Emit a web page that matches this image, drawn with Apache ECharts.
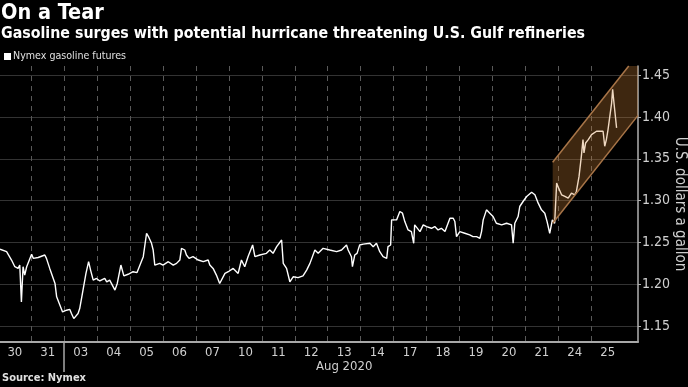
<!DOCTYPE html>
<html><head><meta charset="utf-8">
<script src="https://cdn.jsdelivr.net/npm/echarts@6/dist/echarts.min.js"></script>
<style>html,body{margin:0;padding:0;background:#000;}#c{width:688px;height:387px;}</style>
</head><body><div id="c"></div>
<script>
// ---- data ----
const dayLabels = ['30','31','03','04','05','06','07','10','11','12','13','14','17','18','19','20','21','24','25'];
const monthLabel = 'Aug 2020';
const monthStartIndex = 2; // first August trading day
const yTicks = [1.15, 1.20, 1.25, 1.30, 1.35, 1.40, 1.45];
const seriesName = 'Nymex gasoline futures';
// time in trading days since Jul 30 open
const tradingTime = [
  0.05,0.25,0.40,0.50,0.60, 0.65,0.70,0.75,0.80,0.86, 0.91,1.01,1.06,1.21,1.41, 1.46,1.56,1.62,1.72,1.77,
  1.82,1.87,1.95,2.07,2.17, 2.22,2.29,2.42,2.47,2.57, 2.66,2.70,2.74,2.80,2.88, 2.98,3.08,3.23,3.29,3.38,
  3.54,3.61,3.72,3.81,3.94, 4.09,4.21,4.30,4.40,4.50, 4.57,4.65,4.70,4.75,4.90, 5.00,5.16,5.31,5.41,5.51,
  5.56,5.66,5.71,5.79,5.91, 6.07,6.22,6.37,6.42,6.52, 6.62,6.72,
  6.88,6.98,7.13,7.28,7.38, 7.48,7.58,7.72,7.79,7.94, 8.14,8.24,8.34,8.45,8.60, 8.65,8.75,8.85,8.95,9.10,
  9.25,9.36,9.46,9.61,9.71, 9.86,10.06,10.27,10.42,10.57, 10.62,10.72,10.75,10.82,10.89, 10.97,11.08,11.28,11.38,11.48,
  11.58,11.68,11.79,11.83,11.91, 11.94,11.99,12.09,12.19,12.27, 12.34,12.44,12.54,12.61,12.64, 12.70,12.80,12.90,13.00,13.15,
  13.25,13.35,13.45,13.56,
  13.71,13.81,13.86,13.91,14.01, 14.16,14.31,14.41,14.52,14.62, 14.67,14.72,14.82,14.92,15.02, 15.12,15.28,15.43,15.58,15.63,
  15.68,15.78,15.83,15.93,16.04, 16.19,16.29,16.39,16.49,16.59, 16.66,16.74,16.82,16.89,16.95, 16.99,17.10,17.20,17.30,17.40,
  17.50,17.55,17.63,17.70,17.75, 17.78,17.83,17.91,18.01,18.16, 18.26,18.36,18.41,18.46,18.51, 18.56,18.62,18.65,18.69,18.74,
  18.77
];
const price = [
  1.242,1.239,1.229,1.221,1.219, 1.223,1.179,1.221,1.211,1.221, 1.223,1.236,1.231,1.232,1.235, 1.231,1.219,1.217,1.201,1.185,
  1.187,1.175,1.167,1.169,1.170, 1.165,1.159,1.165,1.171,1.193, 1.213,1.211,1.227,1.217,1.205, 1.207,1.204,1.207,1.203,1.205,
  1.193,1.201,1.223,1.210,1.212, 1.215,1.214,1.223,1.233,1.261, 1.256,1.249,1.241,1.223,1.225, 1.223,1.227,1.223,1.225,1.229,
  1.243,1.241,1.235,1.231,1.233, 1.229,1.227,1.229,1.223,1.219, 1.211,1.201,
  1.213,1.215,1.219,1.213,1.229, 1.221,1.233,1.247,1.233,1.235, 1.237,1.241,1.237,1.245,1.253, 1.225,1.219,1.203,1.209,1.208,
  1.210,1.217,1.225,1.241,1.237, 1.243,1.241,1.239,1.241,1.247, 1.241,1.233,1.221,1.235,1.237, 1.247,1.248,1.249,1.245,1.249,
  1.239,1.233,1.231,1.245,1.247, 1.277,1.279,1.277,1.287,1.285, 1.275,1.265,1.263,1.249,1.271, 1.273,1.263,1.271,1.269,1.267,
  1.269,1.265,1.267,1.263,
  1.279,1.279,1.275,1.257,1.263, 1.261,1.259,1.257,1.257,1.255, 1.263,1.277,1.289,1.285,1.281, 1.273,1.271,1.273,1.271,1.249,
  1.273,1.281,1.293,1.299,1.305, 1.310,1.307,1.297,1.289,1.285, 1.275,1.261,1.277,1.273,1.321, 1.317,1.307,1.305,1.303,1.309,
  1.307,1.311,1.329,1.353,1.373, 1.357,1.369,1.373,1.379,1.383, 1.383,1.383,1.365,1.373,1.385, 1.387,1.417,1.433,1.417,1.417,
  1.387
];
// rising channel annotation (trading-day position, price)
const channelX = [16.83, 19.42];
const channelUpper = [1.346, 1.475];
const channelLower = [1.273, 1.402];

// ---- chart ----
const F = "'DejaVu Sans Condensed','DejaVu Sans',sans-serif";
const xMin = 0.05, xMax = 19.42, yMin = 1.131, yMax = 1.461;
const boundaries = dayLabels.map((d, i) => i).filter(i => i > 0);
const labelPos = dayLabels.map((d, i) => i + 0.5);
const lineData = tradingTime.map((t, i) => [t, price[i]]);

const chart = echarts.init(document.getElementById('c'), null, {renderer: 'canvas'});
chart.setOption({
  backgroundColor: '#000',
  animation: false,
  title: [
    {text: 'On a Tear', left: 1, top: 2, padding: 0, textStyle: {color: '#fff', fontSize: 21.5, fontWeight: 'bold', fontFamily: F}},
    {text: 'Gasoline surges with potential hurricane threatening U.S. Gulf refineries', left: 1, top: 26, padding: 0,
     textStyle: {color: '#fff', fontSize: 15.8, fontWeight: 'bold', fontFamily: F}},
    {text: 'Source: Nymex', left: 2, top: 373, padding: 0, textStyle: {color: '#e0e0e0', fontSize: 11, fontWeight: 'bold', fontFamily: F}}
  ],
  legend: {
    left: 4, top: 51, padding: 0, icon: 'rect', itemWidth: 7, itemHeight: 7, itemGap: 4,
    data: [seriesName], textStyle: {color: '#e0e0e0', fontSize: 10.6, fontFamily: F, padding: [0, 0, 0, -3]}
  },
  grid: {left: 0, right: 50, top: 66, bottom: 45, containLabel: false, outerBoundsMode: 'none'},
  xAxis: [
    {
      type: 'value', min: xMin, max: xMax, position: 'bottom',
      axisLine: {onZero: false, lineStyle: {color: '#a8a8a8', width: 2}},
      axisTick: {show: false, customValues: boundaries},
      axisLabel: {customValues: labelPos, formatter: v => dayLabels[Math.floor(v)], color: '#d0d0d0', fontSize: 13, fontFamily: F, margin: 4},
      splitLine: {show: true, lineStyle: {color: '#5a5a5a', width: 1, type: [5, 5]}}
    },
    {
      type: 'value', min: xMin, max: xMax, position: 'bottom',
      axisLine: {show: false, onZero: false},
      axisTick: {show: true, customValues: [monthStartIndex], length: 30, lineStyle: {color: '#a8a8a8', width: 1.5}},
      axisLabel: {customValues: [(monthStartIndex + dayLabels.length) / 2], formatter: () => monthLabel, color: '#d0d0d0', fontSize: 13, fontFamily: F, margin: 18},
      splitLine: {show: false}
    }
  ],
  yAxis: {
    type: 'value', position: 'right', min: yMin, max: yMax,
    axisLine: {show: true, lineStyle: {color: '#b0b0b0', width: 1.5}},
    axisTick: {show: true, customValues: yTicks, length: 3, lineStyle: {color: '#b0b0b0'}},
    axisLabel: {customValues: yTicks, formatter: v => v.toFixed(2), color: '#d0d0d0', fontSize: 14, fontFamily: F, margin: 4},
    splitLine: {show: true, lineStyle: {color: '#333', width: 1}},
    name: 'U.S. dollars a gallon', nameLocation: 'middle', nameRotate: -90, nameGap: 34, nameMoveOverlap: false,
    nameTextStyle: {color: '#d0d0d0', fontSize: 15, fontFamily: F}
  },
  series: [
    {
      name: seriesName, type: 'line', data: lineData, showSymbol: false, symbol: 'none',
      lineStyle: {color: '#fff', width: 1.4}, itemStyle: {color: '#fff'}, z: 2
    },
    {
      type: 'custom', data: [[channelX[0], channelUpper[0]]], z: 3, silent: true,
      renderItem: function (params, api) {
        const x0 = channelX[0], x1 = channelX[1];
        const u0 = channelUpper[0], u1 = channelUpper[1];
        const l0 = channelLower[0], l1 = channelLower[1];
        let upperEnd = [x1, u1];
        const poly = [[x0, u0]];
        if (u1 > yMax) {
          const xc = x0 + (yMax - u0) / (u1 - u0) * (x1 - x0);
          upperEnd = [xc, yMax];
          poly.push([xc, yMax], [x1, yMax]);
        } else {
          poly.push([x1, u1]);
        }
        poly.push([x1, l1], [x0, l0]);
        const pts = poly.map(p => api.coord(p));
        const st = '#a87548';
        return {
          type: 'group',
          children: [
            {type: 'polygon', shape: {points: pts}, style: {fill: 'rgba(205,128,52,0.30)', stroke: null}},
            {type: 'line', shape: {x1: api.coord([x0, u0])[0], y1: api.coord([x0, u0])[1], x2: api.coord(upperEnd)[0], y2: api.coord(upperEnd)[1]}, style: {stroke: st, lineWidth: 1.5}},
            {type: 'line', shape: {x1: api.coord([x0, l0])[0], y1: api.coord([x0, l0])[1], x2: api.coord([x1, l1])[0], y2: api.coord([x1, l1])[1]}, style: {stroke: st, lineWidth: 1.5}}
          ]
        };
      }
    }
  ]
});
</script></body></html>
